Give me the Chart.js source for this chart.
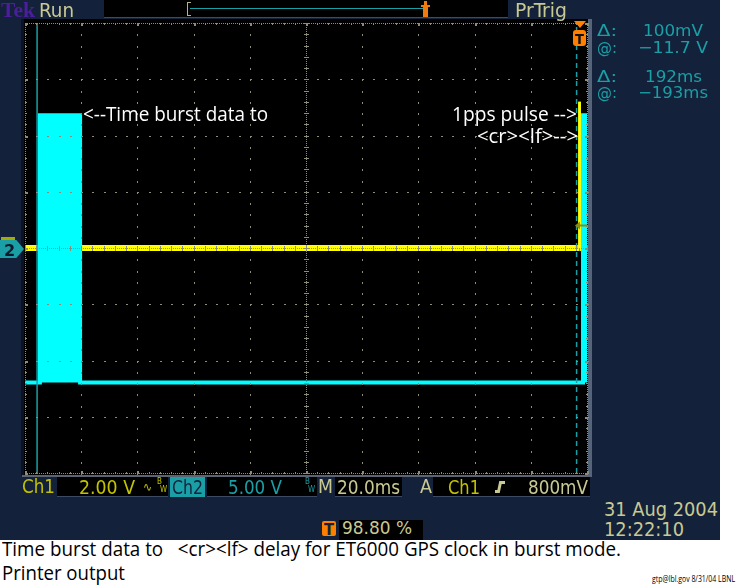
<!DOCTYPE html>
<html><head><meta charset="utf-8">
<script src="https://cdn.jsdelivr.net/npm/chart.js@4/dist/chart.umd.min.js"></script>
<style>
html,body{margin:0;padding:0}
body{width:739px;height:588px;background:#fff;position:relative;overflow:hidden;font-family:'DejaVu Sans Condensed','DejaVu Sans',sans-serif}
#scope{position:absolute;left:0;top:0;width:720px;height:540px;background:#13223a}
.a{position:absolute;white-space:nowrap;line-height:1;transform-origin:0 0}
.box{position:absolute;background:#000;border-bottom:1px solid #3b4b62}
.kh{color:#c9c993}
.yl{color:#c3c300}
.tl{color:#1b9fa7}
.wh{color:#fff;font-family:'Open Sans',sans-serif}
.cap{color:#000;font-family:'Open Sans',sans-serif}
#plotbg{position:absolute;left:22px;top:19px;width:566px;height:457px;background:#000}
#wrap{position:absolute;left:21px;top:19px;width:570px;height:458px}
</style>
</head><body>
<div id="scope"></div>
<div id="plotbg"></div>
<div style="position:absolute;left:21px;top:19px;width:3px;height:457px;background:#0b1226"></div>
<div style="position:absolute;left:22px;top:475px;width:570px;height:2px;background:#5c6474"></div>
<div style="position:absolute;left:588px;top:19px;width:4px;height:458px;background:#56647a"></div>
<div id="wrap"><canvas id="c" width="570" height="458"></canvas></div>

<!-- top bar -->
<div class="a" style="left:1px;top:-1px;font:bold 20px 'Liberation Serif',serif;color:#4c1d9c" data-w="34">Tek</div>
<div class="a kh" style="left:39px;top:0px;font-size:20px" data-w="35">Run</div>
<div class="box" style="left:104px;top:0;width:404px;height:17px"></div>
<div style="position:absolute;left:187px;top:2px;width:3px;height:12px;border:1px solid #b4b48a;border-right:none"></div>
<div style="position:absolute;left:190px;top:8px;width:233px;height:1px;background:#1b9fa7"></div>
<div style="position:absolute;left:423px;top:5px;width:5px;height:12px;background:#f07a10"></div>
<div style="position:absolute;left:424px;top:1px;width:3px;height:4px;background:#f07a10"></div>
<div style="position:absolute;left:421px;top:5px;width:9px;height:2px;background:#f07a10"></div>
<div class="a kh" style="left:515px;top:0px;font-size:20px" data-w="52">PrTrig</div>

<!-- trigger position marker -->
<div style="position:absolute;left:574px;top:21px;width:12px;height:7px;background:#ff8000;clip-path:polygon(0 0,100% 0,50% 100%)"></div>
<div style="position:absolute;left:573px;top:30px;width:13px;height:16px;background:#ff8000;border-radius:3px"></div>
<div class="a" style="left:575px;top:31px;font:bold 14px 'DejaVu Sans',sans-serif;color:#111" data-w="9">T</div>

<!-- cursor readouts -->
<div class="a tl" style="left:597px;top:23px;font-size:16px" data-w="20">Δ:</div>
<div class="a tl" style="left:643px;top:23px;font-size:16px" data-w="60">100mV</div>
<div class="a tl" style="left:597px;top:40px;font-size:16px" data-w="20">@:</div>
<div class="a tl" style="left:638px;top:40px;font-size:16px" data-w="70">−11.7 V</div>
<div class="a tl" style="left:597px;top:69px;font-size:16px" data-w="20">Δ:</div>
<div class="a tl" style="left:645px;top:69px;font-size:16px" data-w="57">192ms</div>
<div class="a tl" style="left:597px;top:85px;font-size:16px" data-w="20">@:</div>
<div class="a tl" style="left:638px;top:85px;font-size:16px" data-w="70">−193ms</div>

<!-- channel 2 ground marker -->
<div style="position:absolute;left:1px;top:237px;width:14px;height:3px;background:#a9a900"></div>
<div style="position:absolute;left:0;top:240px;width:24px;height:18px;background:#1b9fa7;clip-path:polygon(0 0,68% 0,100% 50%,68% 100%,0 100%)"></div>
<div class="a" style="left:4px;top:241px;font:bold 16px 'DejaVu Sans',sans-serif;color:#0d1a2c">2</div>

<!-- plot annotations -->
<div class="a wh" style="left:83px;top:104px;font-size:20px" data-w="185">&lt;--Time burst data to</div>
<div class="a wh" style="left:452px;top:104px;font-size:20px" data-w="125">1pps pulse --&gt;</div>
<div class="a wh" style="left:477px;top:126px;font-size:20px" data-w="101">&lt;cr&gt;&lt;lf&gt;--&gt;</div>

<!-- bottom bar -->
<div class="a yl" style="left:22px;top:477px;font-size:19px" data-w="33">Ch1</div>
<div class="box" style="left:57px;top:477px;width:111px;height:19px"></div>
<div class="a yl" style="left:79px;top:478px;font-size:19px" data-w="56">2.00 V</div>
<div class="a yl" style="left:143px;top:481px;font-size:12px">∿</div>
<div class="a yl" style="left:157px;top:478px;font-size:8px">B</div>
<div class="a yl" style="left:160px;top:486px;font-size:8px">W</div>
<div style="position:absolute;left:170px;top:477px;width:35px;height:20px;background:#1b9fa7"></div>
<div class="a" style="left:172px;top:478px;font-size:19px;color:#13223a" data-w="31">Ch2</div>
<div class="box" style="left:207px;top:477px;width:110px;height:19px"></div>
<div class="a tl" style="left:228px;top:478px;font-size:19px" data-w="54">5.00 V</div>
<div class="a tl" style="left:305px;top:478px;font-size:8px">B</div>
<div class="a tl" style="left:308px;top:486px;font-size:8px">W</div>
<div class="a kh" style="left:318px;top:477px;font-size:19px" data-w="15">M</div>
<div class="box" style="left:335px;top:477px;width:67px;height:19px"></div>
<div class="a kh" style="left:337px;top:478px;font-size:19px" data-w="63">20.0ms</div>
<div class="a kh" style="left:420px;top:477px;font-size:19px" data-w="12">A</div>
<div class="box" style="left:433px;top:477px;width:157px;height:19px"></div>
<div class="a yl" style="left:448px;top:478px;font-size:19px" data-w="32">Ch1</div>
<div style="position:absolute;left:495px;top:490px;width:4px;height:3px;background:#c9c993"></div>
<div style="position:absolute;left:498px;top:481px;width:3px;height:12px;background:#c9c993;transform:skewX(-12deg)"></div>
<div style="position:absolute;left:500px;top:481px;width:5px;height:3px;background:#c9c993"></div>
<div class="a kh" style="left:528px;top:478px;font-size:19px" data-w="60">800mV</div>

<div class="a kh" style="left:604px;top:500px;font-size:19px" data-w="114">31 Aug 2004</div>
<div class="a kh" style="left:604px;top:520px;font-size:19px" data-w="80">12:22:10</div>

<div style="position:absolute;left:322px;top:521px;width:14px;height:15px;background:#ff8000;border-radius:2px"></div>
<div class="a" style="left:324px;top:521px;font:bold 15px 'DejaVu Sans',sans-serif;color:#13223a" data-w="10">T</div>
<div class="box" style="left:339px;top:520px;width:84px;height:20px;border-bottom:none"></div>
<div class="a kh" style="left:342px;top:520px;font-size:17px" data-w="70">98.80 %</div>

<!-- caption -->
<div class="a cap" style="left:2px;top:539px;font-size:20px" data-w="619">Time burst data to &nbsp; &lt;cr&gt;&lt;lf&gt; delay for ET6000 GPS clock in burst mode.</div>
<div class="a cap" style="left:2px;top:563px;font-size:20px" data-w="123">Printer output</div>
<div class="a cap" style="left:652px;top:574px;font-size:9px" data-w="83">gtp@lbl.gov 8/31/04 LBNL</div>

<script>
const xRange = [-197.6, 2.4];     // ms; 20 ms/div, trigger at 98.80 %
const yRange = [-4, 4];           // vertical divisions
const msPerDiv = 20;
// Ch1 (yellow, 2.00 V/div): 1pps pulse
const ch1Time = [-197.6, -0.3, -0.3, -0.2, -0.2, 2.4];
const ch1Div  = [0, 0, 2.6, 2.6, 0, 0];
// Ch2 (cyan, 5.00 V/div): RS-232 time burst and <cr><lf>
const ch2Time = [-197.6, -192.3, -192.3, -178.0, -178.0, 0.98, 0.98, 2.4];
const ch2Div  = [-2.39, -2.39, 2.36, 2.36, -2.39, -2.39, 2.36, 2.36];
const ch2Low  = -2.39;
// time cursors (ms)
const cursorTimes = [-193.3, -1.3];
// trigger level (divisions, 800 mV at 2 V/div)
const trigLevelDiv = 0.4;

const pts = (xs, ys) => xs.map((x, i) => ({x, y: ys[i]}));
const gratColor = '#8e8e78';

const graticule = {
  id: 'graticule',
  afterDatasetsDraw(chart) {
    const {ctx} = chart; const xs = chart.scales.x, ys = chart.scales.y;
    const xDiv = i => xs.getPixelForValue(xRange[0] + i * msPerDiv);
    const yDiv = j => ys.getPixelForValue(yRange[1] - j);
    const L = xDiv(0), R = xDiv(10), T = yDiv(0), B = yDiv(8);
    const mx = (R - L) / 50, my = (B - T) / 40;
    ctx.save();
    ctx.fillStyle = gratColor;
    const dot = (px, py, w = 1, h = 1) => ctx.fillRect(Math.round(px), Math.round(py), w, h);
    for (let i = 1; i < 10; i++) { if (i === 5) continue; const px = xDiv(i); for (let k = 0; k <= 40; k++) dot(px, T + k * my, 1, 2); }
    for (let j = 1; j < 8; j++) { if (j === 4) continue; const py = yDiv(j); for (let k = 0; k <= 50; k++) dot(L + k * mx, py, 2, 1); }
    const cx = xDiv(5), cy = yDiv(4);
    for (let p = T; p <= B; p += 2) dot(cx, p);
    for (let p = L; p <= R; p += 2) dot(p, cy);
    for (let k = 0; k <= 40; k++) dot(cx - 2, T + k * my, 5, 1);
    for (let k = 0; k <= 50; k++) dot(L + k * mx, cy - 2, 1, 5);
    for (let p = L; p <= R; p += 2) { dot(p, T); dot(p, B); }
    for (let p = T; p <= B; p += 2) { dot(L, p); dot(R, p); }
    for (let k = 0; k <= 50; k++) { const h = k % 5 === 0 ? 3 : 2; dot(L + k * mx, T, k % 5 === 0 ? 2 : 1, h); dot(L + k * mx, B - h + 1, k % 5 === 0 ? 2 : 1, h); }
    for (let k = 0; k <= 40; k++) { const w = k % 5 === 0 ? 3 : 2; dot(L, T + k * my, w, k % 5 === 0 ? 2 : 1); dot(R - w + 1, T + k * my, w, k % 5 === 0 ? 2 : 1); }
    // trigger level marker
    const ty = ys.getPixelForValue(trigLevelDiv), tx = R - 8;
    ctx.fillStyle = '#8c8c10';
    ctx.beginPath(); ctx.moveTo(tx - 4, ty); ctx.lineTo(tx + 1, ty - 4); ctx.lineTo(tx + 1, ty + 4); ctx.closePath(); ctx.fill();
    ctx.fillRect(tx + 1, ty - 1, 7, 2);
    ctx.restore();
  }
};

const cursorSets = cursorTimes.map((t, i) => ({
  data: pts([t, t], yRange),
  borderColor: '#1b9fa7', borderWidth: 1.5,
  borderDash: i === 0 ? [] : [5, 4],
  fill: false, pointRadius: 0
}));

new Chart(document.getElementById('c'), {
  type: 'line',
  data: {
    datasets: [
      ...cursorSets,
      { label: 'Ch2', data: pts(ch2Time, ch2Div), borderColor: '#00ffff', backgroundColor: '#00ffff',
        borderWidth: 4, fill: {value: ch2Low}, pointRadius: 0, borderJoinStyle: 'miter' },
      { label: 'Ch1', data: pts(ch1Time, ch1Div), borderColor: '#ffff00', borderWidth: 6, fill: false, pointRadius: 0,
        segment: { borderWidth: c => (c.p0.parsed.x === c.p1.parsed.x ? 2.5 : 6) } }
    ]
  },
  options: {
    responsive: false, animation: false, events: [],
    layout: {padding: {left: 4, top: 4, right: 4, bottom: 4}},
    elements: {line: {tension: 0}},
    plugins: {legend: {display: false}, tooltip: {enabled: false}},
    scales: {
      x: {type: 'linear', min: xRange[0], max: xRange[1], display: false},
      y: {type: 'linear', min: yRange[0], max: yRange[1], display: false}
    }
  },
  plugins: [graticule]
});

function fitTexts() {
  document.querySelectorAll('[data-w]').forEach(el => {
    el.style.transform = 'none';
    const w = el.getBoundingClientRect().width;
    const t = parseFloat(el.dataset.w);
    if (w > 0) el.style.transform = 'scaleX(' + (t / w) + ')';
  });
}
fitTexts();
if (document.fonts && document.fonts.ready) document.fonts.ready.then(fitTexts);
</script>
</body></html>
